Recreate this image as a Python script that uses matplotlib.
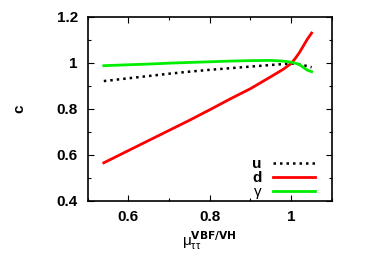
import matplotlib
matplotlib.use("Agg")
import matplotlib.pyplot as plt
from matplotlib.ticker import MultipleLocator

plt.rcParams["font.family"] = ["Liberation Sans", "DejaVu Sans"]
plt.rcParams["mathtext.default"] = "regular"

# data
mu = [0.54, 0.6, 0.65, 0.7, 0.75, 0.8, 0.85, 0.9, 0.95, 0.98, 1.0, 1.01, 1.02, 1.03, 1.04, 1.05]
c_u = [0.921, 0.933, 0.943, 0.953, 0.962, 0.970, 0.977, 0.984, 0.991, 0.995, 0.998, 0.996,
       0.994, 0.990, 0.986, 0.981]
c_d = [0.565, 0.618, 0.662, 0.706, 0.750, 0.796, 0.843, 0.888, 0.940, 0.972, 0.998, 1.020,
       1.045, 1.075, 1.105, 1.130]
c_gamma = [0.988, 0.992, 0.995, 0.999, 1.002, 1.005, 1.008, 1.010, 1.011, 1.008, 1.003, 0.999,
           0.993, 0.980, 0.968, 0.962]

fig = plt.figure(figsize=(3.74, 2.62), dpi=100)
ax = fig.add_axes([87.5 / 374, 1 - 200.7 / 262, (332 - 87.5) / 374, (200.7 - 17) / 262])

ax.plot(mu, c_u, color="black", lw=1.8, linestyle=(0, (1, 1.6)), label="u")
ax.plot(mu, c_d, color="#ff0000", lw=2, label="d")
ax.plot(mu, c_gamma, color="#00ee00", lw=2, label="γ")

ax.set_xlim(0.5, 1.1)
ax.set_ylim(0.4, 1.2)
ax.xaxis.set_minor_locator(MultipleLocator(0.1))
ax.yaxis.set_minor_locator(MultipleLocator(0.1))
ax.set_xticks([0.6, 0.8, 1.0])
ax.set_xticklabels(["0.6", "0.8", "1"])
ax.set_yticks([0.4, 0.6, 0.8, 1.0, 1.2])
ax.set_yticklabels(["0.4", "0.6", "0.8", "1", "1.2"])
ax.tick_params(which="both", direction="in", top=True, right=True,
               labelsize=11, width=0.8)
ax.tick_params(which="major", length=4, pad=7)
ax.tick_params(which="minor", length=2)
for lab in ax.get_xticklabels() + ax.get_yticklabels():
    lab.set_fontweight("bold")
for sp in ax.spines.values():
    sp.set_linewidth(1.2)

ax.set_ylabel("c", fontweight="bold", fontsize=11, labelpad=22)
ax.set_xlabel(r"$\mu_{\tau\tau}^{\mathbf{VBF/VH}}$", fontsize=11, labelpad=3)

leg = ax.legend(loc="lower right", bbox_to_anchor=(0.957, -0.025), frameon=False,
                markerfirst=False, handlelength=2.8, handletextpad=0.7,
                labelspacing=0.0, fontsize=11, borderaxespad=0.0)
for t in leg.get_texts()[:2]:
    t.set_fontweight("bold")

fig.savefig("out.png", dpi=100)
